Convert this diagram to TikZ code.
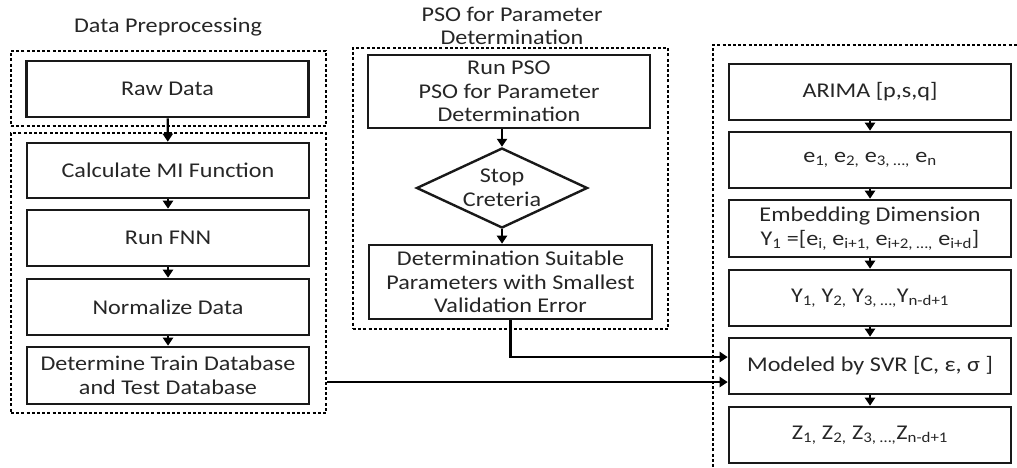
\documentclass[tikz,border=0pt]{standalone}
\usepackage{fontspec}
\setmainfont{Carlito}[FakeStretch=1.15]
\usetikzlibrary{arrows.meta,shapes.geometric}
\begin{document}
\begin{tikzpicture}[x=1pt,y=-1pt,
  font=\fontsize{21}{23.5}\selectfont,
  every node/.style={text=black!85},
  box/.style={draw=black!90,line width=2.6pt,minimum width=282pt,minimum height=56pt,inner sep=0pt,align=center},
  grp/.style={draw=black,line width=2.2pt,dash pattern=on 3pt off 2.2pt,minimum width=315pt,inner sep=0pt},
  dec/.style={draw=black!90,line width=2.4pt,diamond,aspect=2.14,minimum width=171pt,minimum height=80pt,inner sep=0pt,align=center},
  arr/.style={line width=2.2pt,-{Triangle[width=10pt,length=8pt]}}]
\useasboundingbox (0,0) rectangle (1017,467);
% titles
\node (t1) at (168,27) {Data Preprocessing};
\node[align=center] (t2) at (512,26) {PSO for Parameter\\Determination};
% left groups
\node[grp,minimum height=75pt] (g1) at (168.5,88.5) {};
\node[grp,minimum height=280pt] (g2) at (168.5,273) {};
\node[box] (raw) at (167.5,89) {Raw Data};
\node[box,minimum height=55pt] (mi) at (168,170.5) {Calculate MI Function};
\node[box] (fnn) at (168,238) {Run FNN};
\node[box] (norm) at (168,307) {Normalize Data};
\node[box,minimum height=57pt] (train) at (168,375.5) {Determine Train Database\\and Test Database};
\draw[arr] (raw) -- (mi);
\draw[arr] (mi) -- (fnn);
\draw[arr] (fnn) -- (norm);
\draw[arr] (norm) -- (train);
% middle group
\node[grp,minimum height=281pt] (g3) at (510.5,188.5) {};
\node[box,minimum height=73pt] (pso) at (509,91.5) {Run PSO\\PSO for Parameter\\Determination};
\node[dec] (stop) at (502,188) {Stop\\Creteria};
\node[box,minimum height=74pt,minimum width=283pt] (det) at (510.5,282) {Determination Suitable\\Parameters with Smallest\\Validation Error};
\draw[arr] (pso.south -| stop) -- (stop.north);
\draw[arr] (stop.south) -- (det.north -| stop);
% right group
\coordinate (r0) at (713,467);
\coordinate (r1) at (713,45);
\coordinate (r2) at (1017,45);
\draw[line width=2.2pt,dash pattern=on 3pt off 2.2pt] (r0) -- (r1) -- (r2);
\node[box] (arima) at (870,92) {ARIMA [p,s,q]};
\node[box] (err) at (870,160) {e\textsubscript{1,} e\textsubscript{2,} e\textsubscript{3, …,} e\textsubscript{n}};
\node[box,minimum height=57pt] (emb) at (870,228.5) {Embedding Dimension\\Y\textsubscript{1} =[e\textsubscript{i,} e\textsubscript{i+1,} e\textsubscript{i+2, …,} e\textsubscript{i+d}]};
\node[box] (ys) at (870,298) {Y\textsubscript{1,} Y\textsubscript{2,} Y\textsubscript{3, …,}Y\textsubscript{n-d+1}};
\node[box] (svr) at (870,366) {Modeled by SVR [C, ε, σ ]};
\node[box] (zs) at (870,435) {Z\textsubscript{1,} Z\textsubscript{2,} Z\textsubscript{3, …,}Z\textsubscript{n-d+1}};
\draw[arr] (arima) -- (err);
\draw[arr] (err) -- (emb);
\draw[arr] (emb) -- (ys);
\draw[arr] (ys) -- (svr);
\draw[arr] (svr) -- (zs);
% connectors into SVR
\draw[arr] (det.south) |- (svr.west |- 0,357);
\draw[arr] (g2.east |- 0,382) -- (svr.west |- 0,382);
\end{tikzpicture}
\end{document}
